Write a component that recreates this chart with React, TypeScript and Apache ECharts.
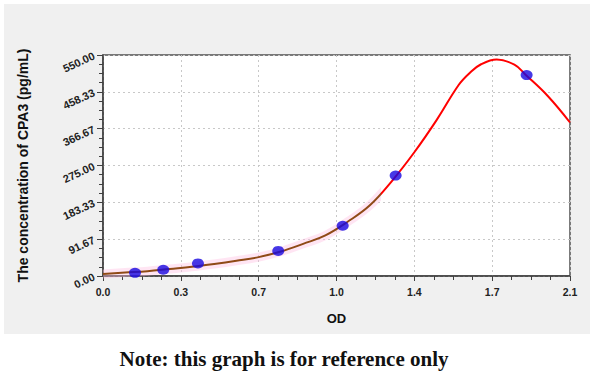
import React, { useEffect, useRef } from "react";
import * as echarts from "echarts";

// Standard points (OD, concentration)
const pointOD = [0.144, 0.271, 0.427, 0.788, 1.078, 1.316, 1.905];
const pointConc = [7.8, 15.6, 31.25, 62.5, 125, 250, 500];

// Fitted curve
const curveOD = [0, 0.1, 0.2, 0.3, 0.4, 0.5, 0.6, 0.7, 0.8, 0.9, 1.0, 1.1, 1.2, 1.3, 1.4, 1.5, 1.6, 1.65, 1.7, 1.77, 1.85, 1.9, 2.0, 2.1];
const curveConc = [5, 8.5, 12, 17.5, 23, 30, 38, 47, 61, 80, 101, 135, 176, 237, 308, 388, 476, 506, 527, 539, 526, 501, 448, 382];

// OD where the curve colour changes from brown to red
const splitOD = 1.25;

const xTickLabels = ["0.0", "0.3", "0.7", "1.0", "1.4", "1.7", "2.1"];
const yTickLabels = ["0.00", "91.67", "183.33", "275.00", "366.67", "458.33", "550.00"];

const xTitle = "OD";
const yTitle = "The concentration of CPA3 (pg/mL)";
const note = "Note: this graph is for reference only";

const zip = (a: number[], b: number[]) => a.map((v, i) => [v, b[i]]);

const splitGradient = (px: number, width: number, left: string, right: string) => {
  const f = Math.min(1, Math.max(0, px / width));
  return new echarts.graphic.LinearGradient(
    0, 0, width, 0,
    [
      { offset: 0, color: left },
      { offset: f, color: left },
      { offset: Math.min(1, f + 0.0001), color: right },
      { offset: 1, color: right },
    ],
    true
  );
};

export default function App() {
  const ref = useRef<HTMLDivElement>(null);
  useEffect(() => {
    if (!ref.current) return;
    const chart = echarts.init(ref.current, null, { renderer: "svg" });
    const axisFont = { fontFamily: "Liberation Sans, Arial, sans-serif", fontWeight: "bold" as const, color: "#222" };
    chart.setOption({
      animation: false,
      backgroundColor: "#ffffff",
      graphic: [
        {
          type: "rect",
          z: -100,
          silent: true,
          shape: { x: 4, y: 4, width: 586, height: 330 },
          style: { fill: "#f0f0f0" },
        },
        {
          type: "text",
          x: 284,
          y: 359,
          style: {
            text: note,
            fill: "#111",
            font: "bold 21px 'Liberation Serif', serif",
            align: "center",
            verticalAlign: "middle",
          },
        },
      ],
      grid: {
        left: 103,
        right: 30,
        top: 55,
        bottom: 103,
        show: true,
        backgroundColor: "#ffffff",
        borderColor: "#505050",
        borderWidth: 1.5,
        containLabel: false,
      },
      xAxis: {
        type: "value",
        min: 0,
        max: 2.1,
        interval: 0.35,
        name: xTitle,
        nameLocation: "middle",
        nameGap: 36,
        nameTextStyle: { ...axisFont, fontSize: 13, color: "#111" },
        axisLine: { show: true, lineStyle: { color: "#404040", width: 1.5 } },
        axisTick: { show: true, length: 5, lineStyle: { color: "#404040" } },
        minorTick: { show: true, splitNumber: 4, length: 4, lineStyle: { color: "#404040" } },
        splitLine: { show: true, lineStyle: { color: "#c8c8c8", type: [2, 3] } },
        axisLabel: {
          ...axisFont,
          fontSize: 10.5,
          margin: 10,
          formatter: (_v: number, i: number) => xTickLabels[i] ?? "",
        },
      },
      yAxis: {
        type: "value",
        min: 0,
        max: 550,
        interval: 550 / 6,
        name: yTitle,
        nameLocation: "middle",
        nameGap: 73,
        nameRotate: 90,
        nameTextStyle: { ...axisFont, fontSize: 14, color: "#111" },
        axisLine: { show: true, lineStyle: { color: "#404040", width: 1.5 } },
        axisTick: { show: true, length: 6, lineStyle: { color: "#404040" } },
        minorTick: { show: true, splitNumber: 4, length: 4, lineStyle: { color: "#404040" } },
        splitLine: { show: true, lineStyle: { color: "#c8c8c8", type: [2, 3] } },
        axisLabel: {
          ...axisFont,
          fontSize: 11,
          margin: 9,
          rotate: 25,
          formatter: (_v: number, i: number) => yTickLabels[i] ?? "",
        },
      },
      series: [
        {
          type: "line",
          data: zip(curveOD, curveConc),
          smooth: 0.4,
          symbol: "none",
          silent: true,
          lineStyle: { width: 9, color: "rgba(255,190,225,0.4)" },
          z: 1,
        },
        {
          type: "line",
          data: zip(curveOD, curveConc),
          smooth: 0.4,
          symbol: "none",
          lineStyle: { width: 2, color: "#8f4a16" },
          z: 2,
        },
        {
          type: "scatter",
          data: zip(pointOD, pointConc),
          symbol: "circle",
          symbolSize: [12, 10],
          itemStyle: { color: "#1808e0" },
          z: 3,
        },
      ],
    });
    const px = chart.convertToPixel({ xAxisIndex: 0 }, splitOD) as number;
    const w = chart.getWidth();
    chart.setOption({
      series: [
        { lineStyle: { color: splitGradient(px, w, "rgba(255,190,225,0.4)", "rgba(255,255,255,0)") } },
        { lineStyle: { color: splitGradient(px, w, "#8f4a16", "#ff0000") } },
        {},
      ],
    });
    return () => chart.dispose();
  }, []);
  return (
    <div style={{ position: "fixed", left: 0, top: 0, width: 600, height: 379, background: "#fff" }}>
      <div ref={ref} style={{ width: 600, height: 379 }} />
    </div>
  );
}
